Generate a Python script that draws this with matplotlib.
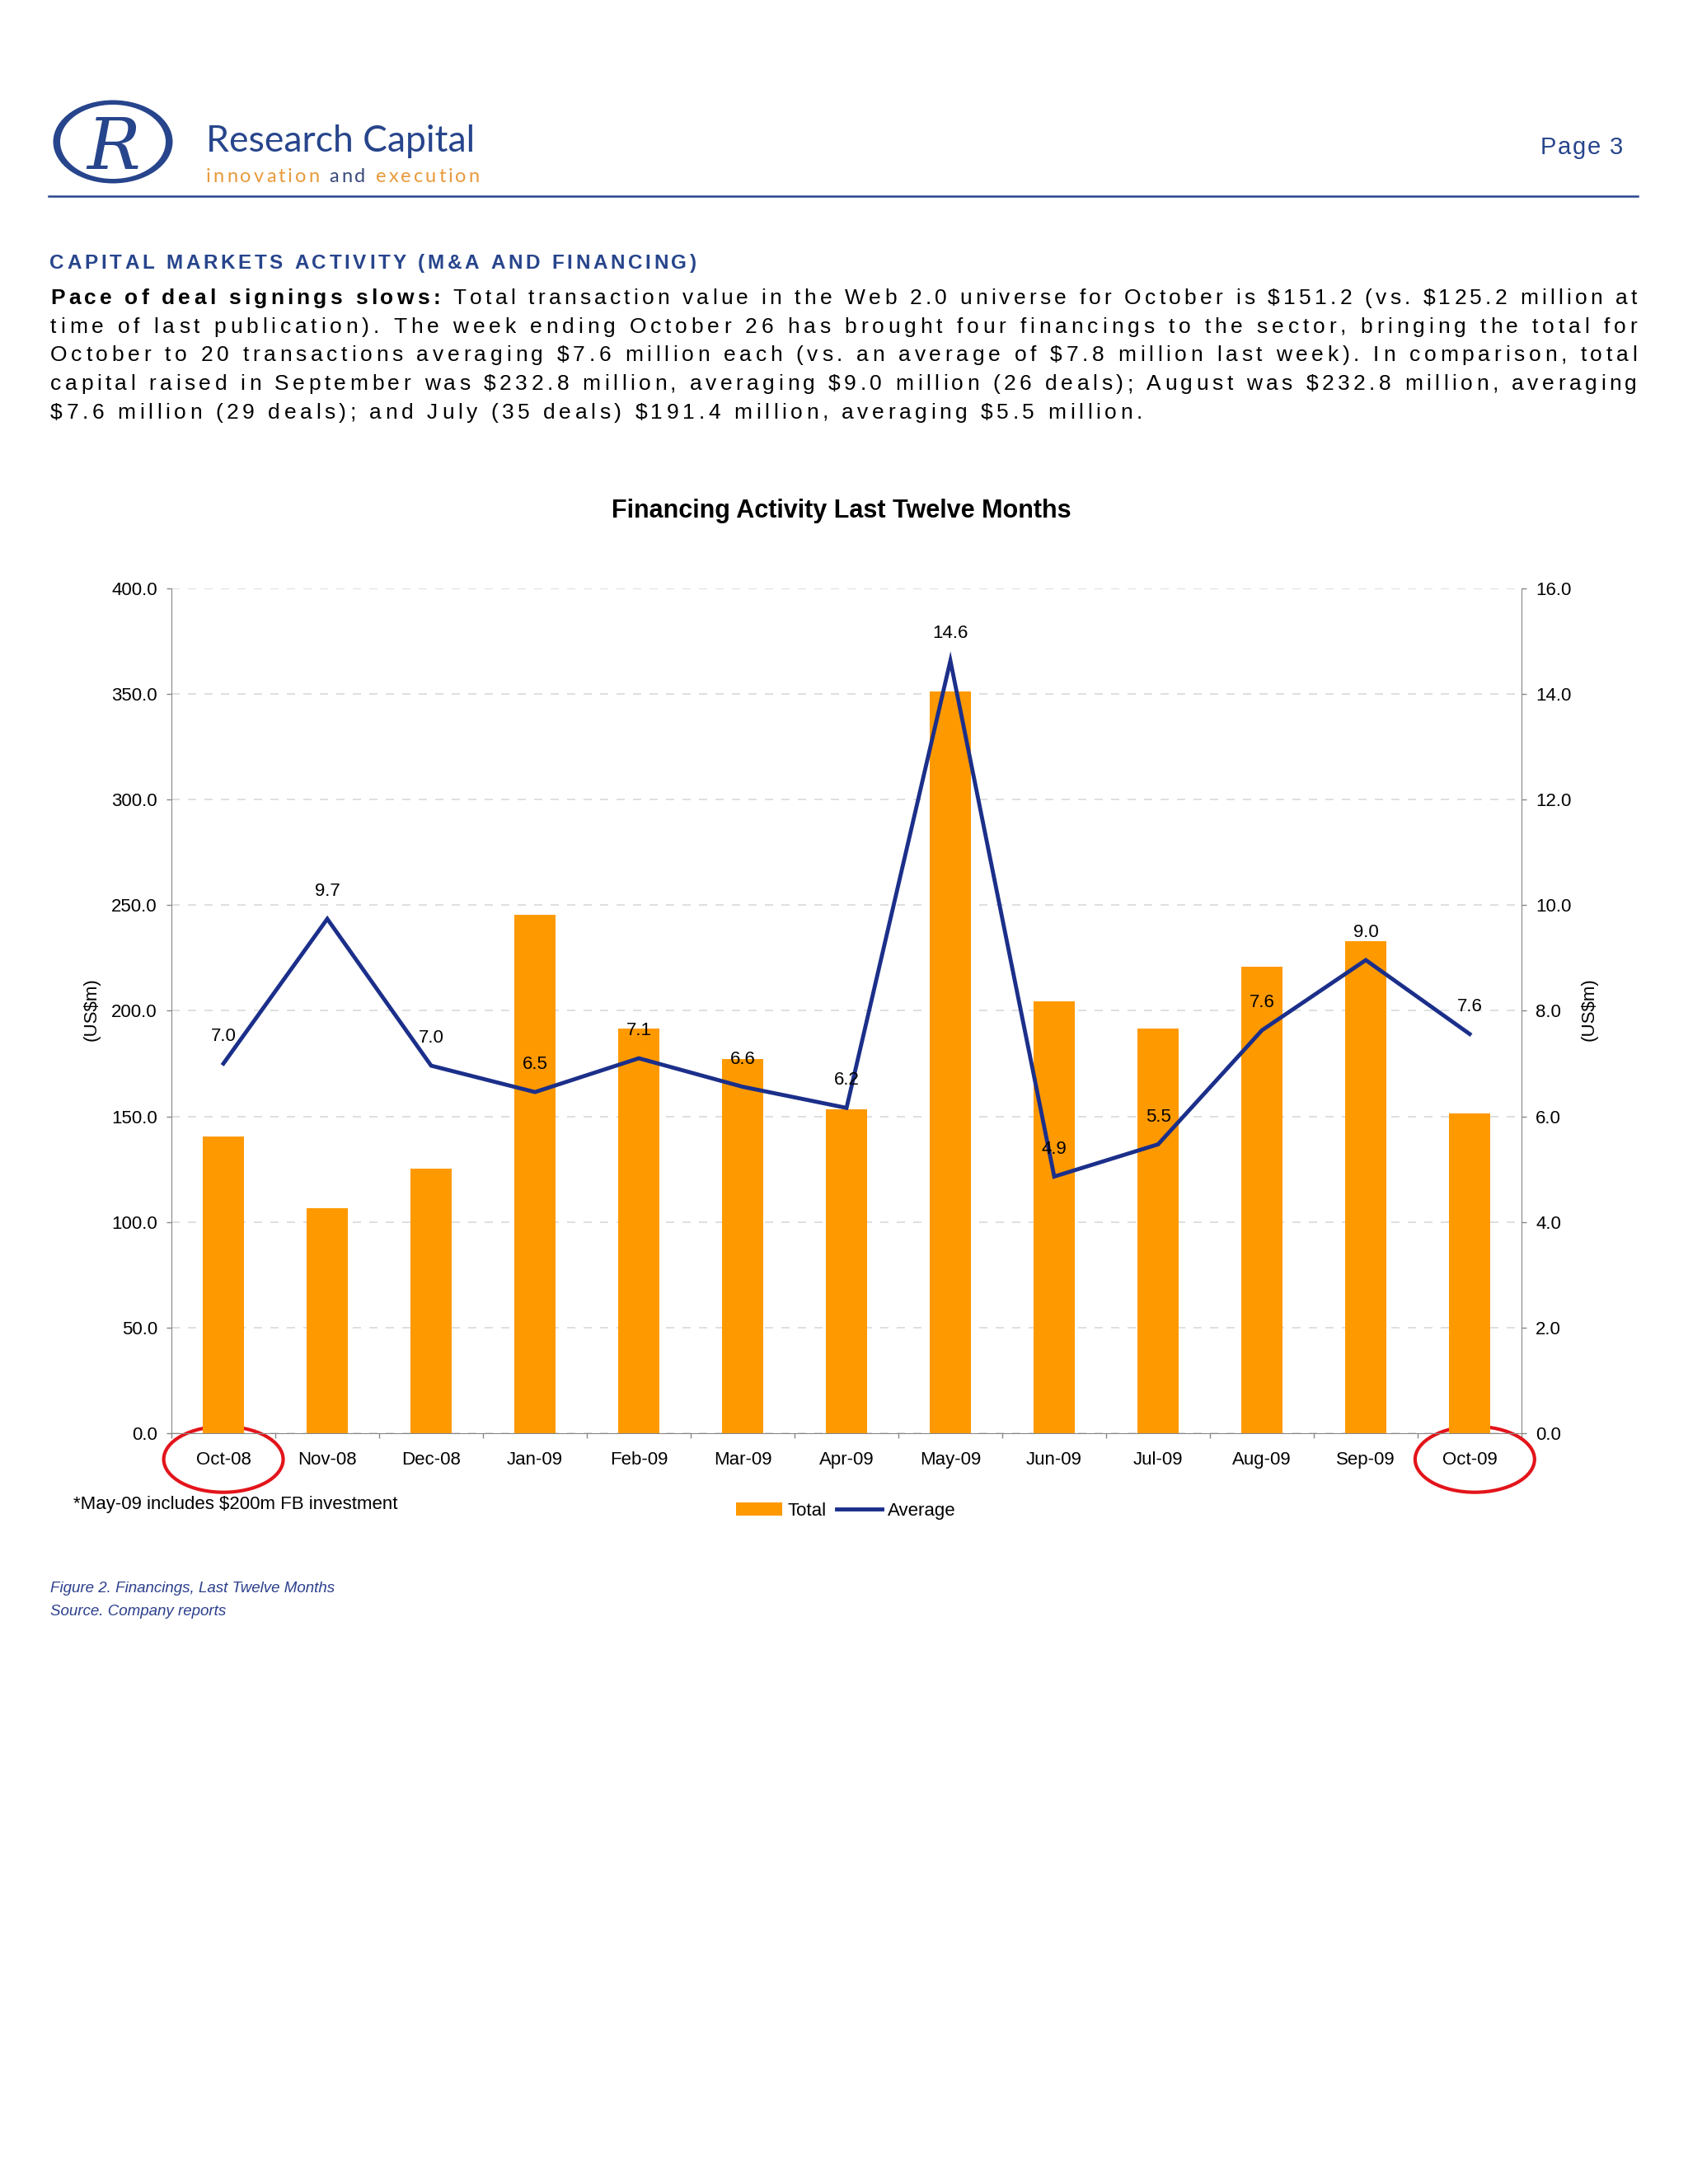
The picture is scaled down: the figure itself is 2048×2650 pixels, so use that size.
import matplotlib
matplotlib.use('Agg')
import matplotlib.pyplot as plt
import matplotlib.transforms as mtransforms
import numpy as np
from matplotlib import font_manager, ft2font
from matplotlib.font_manager import FontProperties
from matplotlib.patches import Ellipse
from matplotlib.lines import Line2D

plt.rcParams['text.parse_math'] = False
plt.rcParams['font.family'] = ['Liberation Sans', 'DejaVu Sans']

# ---- data ----
months = ['Oct-08', 'Nov-08', 'Dec-08', 'Jan-09', 'Feb-09', 'Mar-09', 'Apr-09',
          'May-09', 'Jun-09', 'Jul-09', 'Aug-09', 'Sep-09', 'Oct-09']
total = [140.5, 106.5, 125.2, 245.3, 191.6, 177.0, 153.4,
         351.2, 204.6, 191.4, 221.0, 232.8, 151.2]
average = [7.0, 9.74, 6.96, 6.46, 7.1, 6.56, 6.16,
           14.63, 4.86, 5.47, 7.63, 8.96, 7.56]
left_ticks = [0, 50, 100, 150, 200, 250, 300, 350, 400]
right_ticks = [0, 2, 4, 6, 8, 10, 12, 14, 16]

section_title = 'CAPITAL MARKETS ACTIVITY (M&A AND FINANCING)'
lead_in = 'Pace of deal signings slows:'
para_lines = [
    ' Total transaction value in the Web 2.0 universe for October is $151.2 (vs. $125.2 million at',
    'time of last publication). The week ending October 26 has brought four financings to the sector, bringing the total for',
    'October to 20 transactions averaging $7.6 million each (vs. an average of $7.8 million last week). In comparison, total',
    'capital raised in September was $232.8 million, averaging $9.0 million (26 deals); August was $232.8 million, averaging',
    '$7.6 million (29 deals); and July (35 deals) $191.4 million, averaging $5.5 million.',
]

W, H = 2048, 2650
fig = plt.figure(figsize=(20.48, 26.5), dpi=100)

BLUE = '#27458c'
ORANGE = '#FF9900'
NAVY = '#1b2f8a'


def fx(x):
    return x / W


def fy(y):
    return 1 - y / H


def advances(text, family, weight, size):
    fp = FontProperties(family=family, weight=weight)
    f = ft2font.FT2Font(font_manager.findfont(fp))
    f.set_size(size, 100)
    return [f.load_char(ord(c)).linearHoriAdvance / 65536 for c in text]


def tracked(x0, yb, segs, size, width=None, track=None, family='Liberation Sans'):
    # letter-spaced text, optionally stretched to a given width
    chars = []
    for txt, weight, color in segs:
        adv = advances(txt, family, weight, size)
        chars += [(c, a, weight, color) for c, a in zip(txt, adv)]
    tot = sum(a for _, a, _, _ in chars)
    if track is None:
        track = (width - tot) / (len(chars) - 1)
    x = x0
    for c, a, weight, color in chars:
        if c != ' ':
            fig.text(fx(x), fy(yb), c, fontsize=size, fontweight=weight,
                     color=color, ha='left', va='baseline', family=family)
        x += a + track
    return track


# ---- header ----
fig.add_artist(Ellipse((fx(137), fy(172)), 145 / W, 101 / H,
                       transform=fig.transFigure, color=BLUE, lw=0))
fig.add_artist(Ellipse((fx(137), fy(172)), 128 / W, 90 / H,
                       transform=fig.transFigure, color='white', lw=0))
fig.text(fx(138), fy(205), 'R', family='DejaVu Serif', fontsize=62,
         color=BLUE, ha='center', va='baseline', style='italic')
fig.text(fx(250), fy(184), 'Research Capital', family='Lato',
         fontsize=32, color=BLUE, ha='left', va='baseline')
tracked(250, 221, [('innovation ', 'normal', '#e89a3c'),
                   ('and ', 'normal', '#3a4a7a'),
                   ('execution', 'normal', '#e89a3c')],
        17, width=332, family='Lato')
tracked(1869, 187, [('Page 3', 'normal', BLUE)], 21, width=100)
fig.add_artist(Line2D([fx(59), fx(1987)], [fy(238), fy(238)], color=BLUE, lw=1.8))

# ---- text block ----
tracked(60, 326, [(section_title, 'bold', BLUE)], 17.5, width=785)
tracks = []
for i, line in enumerate(para_lines):
    yb = 369 + i * 34.7
    segs = [(line, 'normal', 'black')]
    if i == 0:
        segs = [(lead_in, 'bold', 'black')] + segs
    if i < len(para_lines) - 1:
        tracks.append(tracked(61, yb, segs, 19, width=1925))
    else:
        tracked(61, yb, segs, 19, track=np.mean(tracks))

# ---- chart ----
fig.text(fx(1021), fy(620), 'Financing Activity Last Twelve Months',
         fontsize=22, fontweight='bold', ha='center', va='center')

ax = fig.add_axes([0.1016, 0.3438, 0.7998, 0.3868])
x = np.arange(len(months))
bars = ax.bar(x, total, width=0.4, color=ORANGE, zorder=2)
ax.yaxis.grid(True, color='#d9d9d9', linestyle=(0, (6, 6)), lw=1.2)
ax.set_axisbelow(True)

ax2 = ax.twinx()
ln, = ax2.plot(x, average, color=NAVY, lw=3.5, solid_joinstyle='miter')
for xi, v in zip(x, average):
    ax2.annotate('%.1f' % v, (xi, v), xytext=(0, 24), textcoords='offset points',
                 ha='center', va='center', fontsize=16)

ax.set_yticks(left_ticks)
ax.set_yticklabels(['%.1f' % v for v in left_ticks])
ax2.set_yticks(right_ticks)
ax2.set_yticklabels(['%.1f' % v for v in right_ticks])
ax.set_xticks(x)
ax.set_xticklabels(months)
ax.set_xticks(np.arange(-0.5, len(months), 1), minor=True)
ax.tick_params(axis='x', which='major', length=0, pad=16, labelsize=16)
ax.tick_params(axis='x', which='minor', length=4.3, width=1, color='#888888')
ax.tick_params(axis='y', length=4.3, width=1, color='#888888', pad=8, labelsize=16)
ax2.tick_params(axis='y', length=4.3, width=1, color='#888888', pad=8, labelsize=16)

for s in ['top', 'right']:
    ax.spines[s].set_visible(False)
for s in ['top', 'left', 'bottom']:
    ax2.spines[s].set_visible(False)
ax.spines['left'].set_color('#888888')
ax.spines['bottom'].set_color('#888888')
ax2.spines['right'].set_color('#888888')

# red highlight rings round the two Octobers
trans = mtransforms.blended_transform_factory(ax.transData, ax.transAxes)
for xc in (0, 12.05):
    ax.add_patch(Ellipse((xc, -0.031), 1.15, 0.078, transform=trans, fill=False,
                         ec='#e3141b', lw=3, clip_on=False))

ax.set_xlim(-0.5, len(months) - 0.5)
ax.set_ylim(0, 400)
ax2.set_ylim(0, 16)

fig.text(fx(111), fy(1225), '(US$m)', rotation=90, fontsize=16, ha='center', va='center')
fig.text(fx(1928), fy(1225), '(US$m)', rotation=90, fontsize=16, ha='center', va='center')

fig.text(fx(89), fy(1825), '*May-09 includes $200m FB investment', fontsize=16,
         ha='left', va='center')
fig.legend([bars, ln], ['Total', 'Average'], loc='center',
           bbox_to_anchor=(0.5012, 0.3083), ncol=2, frameon=False, fontsize=16,
           handlelength=2.5, handletextpad=0.3, columnspacing=0.55)

fig.text(fx(61), fy(1928), 'Figure 2. Financings, Last Twelve Months', fontsize=13.5,
         style='italic', color='#2b3f8c', ha='left', va='center')
fig.text(fx(61), fy(1955), 'Source. Company reports', fontsize=13.5,
         style='italic', color='#2b3f8c', ha='left', va='center')

fig.savefig('out.png', dpi=100)
